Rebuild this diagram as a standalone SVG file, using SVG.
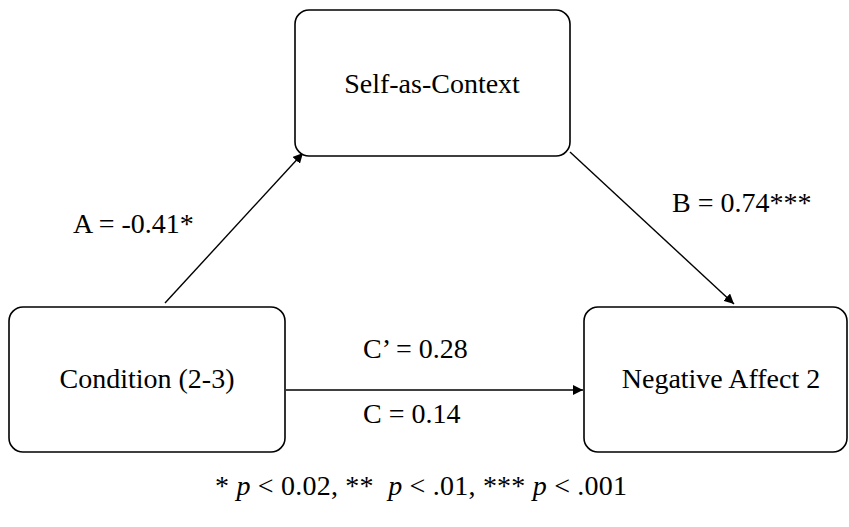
<svg xmlns="http://www.w3.org/2000/svg" width="849" height="527" viewBox="0 0 849 527">
  <style>
    .box { fill: #ffffff; stroke: #000000; stroke-width: 1.6; }
    .lbl { font-family: "Liberation Serif", "Times New Roman", serif; font-size: 28px; fill: #000000; }
    .mid { text-anchor: middle; }
    .edge { stroke: #000000; stroke-width: 1.4; fill: none; marker-end: url(#arrow); }
    .it { font-style: italic; }
  </style>
  <defs>
    <marker id="arrow" viewBox="0 0 10 10" refX="10" refY="5" markerWidth="10" markerHeight="10" markerUnits="userSpaceOnUse" orient="auto">
      <path d="M0,0 L10,5 L0,10 z" fill="#000000"/>
    </marker>
  </defs>
  <rect width="849" height="527" fill="#ffffff"/>

  <!-- paths A, B and C/C' with their coefficients -->
  <g id="connectors">
    <line class="edge" x1="165" y1="303" x2="303" y2="153"/>
    <line class="edge" x1="570" y1="152" x2="734" y2="304"/>
    <line class="edge" x1="286" y1="390" x2="583" y2="390"/>
    <text class="lbl" x="73" y="233">A = -0.41*</text>
    <text class="lbl" x="672" y="212">B = 0.74***</text>
    <text class="lbl" x="363" y="358">C’ = 0.28</text>
    <text class="lbl" x="363" y="423">C = 0.14</text>
  </g>

  <g id="self-as-context">
    <rect class="box" x="295" y="10" width="275" height="146" rx="14"/>
    <text class="lbl mid" x="432" y="93">Self-as-Context</text>
  </g>

  <g id="condition">
    <rect class="box" x="9" y="307" width="276" height="145" rx="14"/>
    <text class="lbl mid" x="147" y="388">Condition (2-3)</text>
  </g>

  <g id="negative-affect">
    <rect class="box" x="584" y="307" width="263" height="145" rx="14"/>
    <text class="lbl mid" x="721" y="388">Negative Affect 2</text>
  </g>

  <!-- significance key -->
  <text class="lbl" x="215" y="495" textLength="412" xml:space="preserve">* <tspan class="it">p</tspan> &lt; 0.02, **  <tspan class="it">p</tspan> &lt; .01, *** <tspan class="it">p</tspan> &lt; .001</text>
</svg>
